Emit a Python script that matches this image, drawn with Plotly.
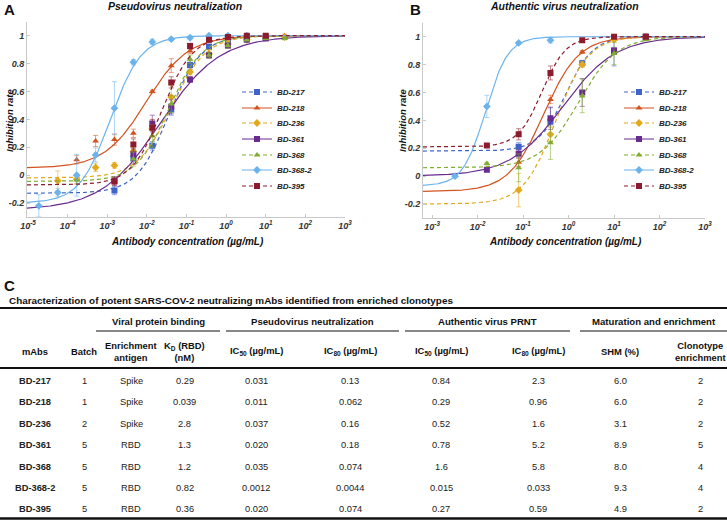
import numpy as np
import plotly.graph_objects as go

W, H = 727, 520
FONT = "Liberation Sans, Arial, sans-serif"

mabs = ["BD-217", "BD-218", "BD-236", "BD-361", "BD-368", "BD-368-2", "BD-395"]
colors = ["#3f63c9", "#d2531f", "#e2a91d", "#6a2b8e", "#80ad2f", "#6cb3ec", "#8c1b2d"]
symbols = ["square", "triangle-up", "diamond", "square", "triangle-up", "diamond", "square"]
dashes = ["4px,3px", "solid", "4px,3px", "solid", "4px,3px", "solid", "4px,3px"]

# pseudovirus neutralization (panel A): measured points, ug/mL
pv_conc = [
    [0.00152, 0.00457, 0.0137, 0.0412, 0.123, 0.37, 1.11, 3.33, 10],
    [0.000169, 0.000508, 0.00152, 0.00457, 0.0137, 0.0412, 0.123, 0.37, 1.11, 3.33, 10, 30],
    [0.0000565, 0.000169, 0.000508, 0.00152, 0.00457, 0.0137, 0.0412, 0.123, 0.37, 1.11, 3.33, 10, 30],
    [0.00152, 0.00457, 0.0137, 0.0412, 0.123, 0.37, 1.11, 3.33, 10],
    [0.000169, 0.00457, 0.0137, 0.0412, 0.123, 0.37, 1.11, 3.33, 10, 30],
    [0.0000188, 0.0000565, 0.000169, 0.000508, 0.00152, 0.00457, 0.0137, 0.0412, 0.123, 0.37, 1.11, 3.33],
    [0.00152, 0.00457, 0.0137, 0.0412, 0.123, 0.37, 1.11, 3.33, 10],
]
pv_rate = [
    [-0.11, 0.12, 0.21, 0.47, 0.79, 0.92, 0.96, 0.98, 0.99],
    [0.11, 0.245, 0.255, 0.30, 0.60, 0.785, 0.89, 0.97, 0.98, 0.99, 0.99, 1.0],
    [-0.04, -0.03, 0.055, 0.07, 0.17, 0.33, 0.56, 0.74, 0.87, 0.94, 0.97, 0.99, 0.99],
    [-0.04, 0.15, 0.37, 0.49, 0.685, 0.86, 0.93, 0.97, 0.98],
    [-0.035, 0.115, 0.28, 0.51, 0.83, 0.86, 0.93, 0.97, 0.98, 0.98],
    [-0.22, -0.125, 0.0, 0.145, 0.48, 0.81, 0.955, 0.975, 0.985, 1.0, 1.0, 1.0],
    [-0.045, 0.22, 0.34, 0.665, 0.925, 0.97, 0.99, 1.0, 1.0],
]
pv_sd = [
    [0.03, 0.04, 0.03, 0.04, 0.03, 0.02, 0.02, 0.01, 0.01],
    [0.03, 0.04, 0.04, 0.03, 0.01, 0.05, 0.02, 0.01, 0.01, 0.01, 0.01, 0.01],
    [0.07, 0.03, 0.03, 0.02, 0.03, 0.05, 0.08, 0.02, 0.03, 0.02, 0.01, 0.01, 0.01],
    [0.03, 0.04, 0.06, 0.05, 0.02, 0.02, 0.02, 0.01, 0.01],
    [0.03, 0.05, 0.08, 0.06, 0.03, 0.02, 0.02, 0.01, 0.01, 0.01],
    [0.08, 0.03, 0.15, 0.05, 0.19, 0.02, 0.02, 0.01, 0.01, 0.01, 0.01, 0.01],
    [0.03, 0.04, 0.06, 0.04, 0.02, 0.01, 0.01, 0.01, 0.01],
]
# fitted 4-parameter logistic curves, panel A
pv_bottom = [-0.13, 0.05, -0.02, -0.25, -0.045, -0.2, -0.07]
pv_ec50 = [0.036, 0.0096, 0.042, 0.022, 0.036, 0.0012, 0.024]
pv_hill = [1.07, 0.82, 1.0, 0.585, 1.05, 1.12, 1.13]

# authentic virus neutralization (panel B)
av_conc = [
    [0.08, 0.4, 2, 10, 50],
    [0.08, 0.4, 2, 10, 50],
    [0.08, 0.4, 2, 10, 50],
    [0.016, 0.08, 0.4, 2, 10, 50],
    [0.016, 0.08, 0.4, 2, 10, 50],
    [0.0032, 0.016, 0.08, 0.4],
    [0.016, 0.08, 0.4, 2, 10, 50],
]
av_rate = [
    [0.21, 0.39, 0.81, 0.89, 1.0],
    [0.10, 0.55, 0.89, 0.99, 1.0],
    [-0.10, 0.30, 0.80, 0.98, 1.0],
    [0.045, 0.16, 0.415, 0.60, 0.90, 1.0],
    [0.09, 0.06, 0.24, 0.575, 0.88, 0.98],
    [0.0, 0.50, 0.955, 0.975],
    [0.22, 0.30, 0.74, 0.975, 1.0, 1.0],
]
av_sd = [
    [0.03, 0.10, 0.02, 0.10, 0.01],
    [0.03, 0.03, 0.01, 0.01, 0.01],
    [0.12, 0.05, 0.02, 0.02, 0.01],
    [0.01, 0.03, 0.08, 0.10, 0.02, 0.01],
    [0.01, 0.10, 0.12, 0.12, 0.08, 0.01],
    [0.01, 0.08, 0.01, 0.02],
    [0.01, 0.04, 0.05, 0.01, 0.01, 0.01],
]
av_bottom = [0.18, -0.11, -0.2, 0.0, 0.06, -0.07, 0.21]
av_ec50 = [0.87, 0.285, 0.525, 0.75, 1.65, 0.0149, 0.26]
av_hill = [1.45, 1.13, 1.24, 0.75, 1.04, 1.75, 1.65]

# table (panel C)
batch = ["1", "1", "2", "5", "5", "5", "5"]
antigen = ["Spike", "Spike", "Spike", "RBD", "RBD", "RBD", "RBD"]
kd = ["0.29", "0.039", "2.8", "1.3", "1.2", "0.82", "0.36"]
pv_ic50 = ["0.031", "0.011", "0.037", "0.020", "0.035", "0.0012", "0.020"]
pv_ic80 = ["0.13", "0.062", "0.16", "0.18", "0.074", "0.0044", "0.074"]
av_ic50 = ["0.84", "0.29", "0.52", "0.78", "1.6", "0.015", "0.27"]
av_ic80 = ["2.3", "0.96", "1.6", "5.2", "5.8", "0.033", "0.59"]
shm = ["6.0", "6.0", "3.1", "8.9", "8.0", "9.3", "4.9"]
clonotype = ["2", "2", "2", "5", "4", "4", "2"]
col_headers = ["mAbs", "Batch", "Enrichment<br>antigen", "K<sub>D</sub> (RBD)<br>(nM)",
               "IC<sub>50</sub> (µg/mL)", "IC<sub>80</sub> (µg/mL)",
               "IC<sub>50</sub> (µg/mL)", "IC<sub>80</sub> (µg/mL)",
               "SHM (%)", "Clonotype<br>enrichment"]
groups = ["Viral protein binding", "Pseudovirus neutralization",
          "Authentic virus PRNT", "Maturation and enrichment"]

# table layout (pixels)
col_x = [35, 84, 131, 185, 256, 350, 441, 538, 620, 700]
group_span = [(96, 220), (226, 399), (405, 570), (580, 727)]
row_y0, row_dy = 381, 21.4


def px(x):
    return x / W


def py(y):
    return 1 - y / H


def logistic(c, bottom, ec50, hill, top=1.0):
    return bottom + (top - bottom) / (1 + (ec50 / c) ** hill)


def rgba(hexc, a):
    h = hexc.lstrip("#")
    return "rgba(%d,%d,%d,%.2f)" % (int(h[0:2], 16), int(h[2:4], 16), int(h[4:6], 16), a)


fig = go.Figure()

panels = [
    ("x", "y", pv_conc, pv_rate, pv_sd, pv_bottom, pv_ec50, pv_hill, (-5.025, 3), 0),
    ("x2", "y2", av_conc, av_rate, av_sd, av_bottom, av_ec50, av_hill, (-3.2, 3), 7),
]
legend_y = [92, 108, 123, 139, 155, 170, 186]
legend_x = [237, 619]

for xa, ya, conc, rate, sd, bot, ec, hl, xr, loff in panels:
    cc = np.logspace(xr[0], xr[1], 400)
    for i, name in enumerate(mabs):
        fig.add_trace(go.Scatter(
            x=cc, y=logistic(cc, bot[i], ec[i], hl[i]), mode="lines",
            line=dict(color=colors[i], width=1.2, dash=dashes[i]),
            xaxis=xa, yaxis=ya, showlegend=False, hoverinfo="skip"))
        fig.add_trace(go.Scatter(
            x=conc[i], y=rate[i], mode="markers",
            marker=dict(color=colors[i], symbol=symbols[i], size=6),
            error_y=dict(type="data", array=sd[i], color=rgba(colors[i], 0.55),
                         thickness=1, width=2.5),
            xaxis=xa, yaxis=ya, showlegend=False))
        lg = "legend" if loff + i == 0 else "legend%d" % (loff + i + 1)
        fig.add_trace(go.Scatter(
            x=[None], y=[None], mode="lines+markers", name=name,
            line=dict(color=colors[i], width=1.2, dash=dashes[i]),
            marker=dict(color=colors[i], symbol=symbols[i], size=6),
            xaxis=xa, yaxis=ya, legend=lg))

tickfont = dict(family=FONT, size=9, color="#333", weight="bold", style="italic")
axis_common = dict(showline=True, linecolor="#c9c9c9", linewidth=1, ticks="inside",
                   ticklen=3, tickcolor="#c9c9c9", showgrid=False, zeroline=False,
                   tickfont=tickfont, automargin=False)
yt = [-0.2, 0, 0.2, 0.4, 0.6, 0.8, 1]
yl = ["-0.2", "0", "0.2", "0.4", "0.6", "0.8", "1"]

layout = dict(
    width=W, height=H, margin=dict(l=0, r=0, t=0, b=0, autoexpand=False),
    plot_bgcolor="white", paper_bgcolor="white",
    font=dict(family=FONT, color="#222"),
    xaxis=dict(domain=[px(27), px(345)], type="log", range=[-5.025, 3], anchor="y",
               tickvals=[10.0 ** k for k in range(-5, 4)],
               ticktext=["10<sup>%d</sup>" % k for k in range(-5, 4)], **axis_common),
    yaxis=dict(domain=[py(217), py(21.7)], range=[-0.3, 1.1], anchor="x",
               tickvals=yt, ticktext=yl, **axis_common),
    xaxis2=dict(domain=[px(423), px(705)], type="log", range=[-3.2, 3], anchor="y2",
                tickvals=[10.0 ** k for k in range(-3, 4)],
                ticktext=["10<sup>%d</sup>" % k for k in range(-3, 4)], **axis_common),
    yaxis2=dict(domain=[py(218), py(22.7)], range=[-0.3, 1.1], anchor="x2",
                tickvals=yt, ticktext=yl, **axis_common),
)

legfont = dict(family=FONT, size=8, color="#222", weight="bold", style="italic")
for p in range(2):
    for i in range(7):
        k = p * 7 + i
        key = "legend" if k == 0 else "legend%d" % (k + 1)
        layout[key] = dict(x=px(legend_x[p]), y=py(legend_y[i]), xanchor="left",
                           yanchor="middle", bgcolor="rgba(0,0,0,0)", font=legfont,
                           itemwidth=30)
fig.update_layout(**layout)

ann = []


def text(x, y, s, size, bold=True, italic=False, xanchor="center", angle=0, color="#111"):
    ann.append(dict(x=px(x), y=py(y), xref="paper", yref="paper", text=s, showarrow=False,
                    xanchor=xanchor, yanchor="middle", textangle=angle,
                    font=dict(family=FONT, size=size, color=color,
                              weight="bold" if bold else "normal",
                              style="italic" if italic else "normal")))


text(2, 9, "A", 15, xanchor="left")
text(175, 6, "Pseudovirus neutralization", 10.5, italic=True)
text(408, 9, "B", 15, xanchor="left")
text(564, 6, "Authentic virus neutralization", 10.5, italic=True)
text(9, 120, "Inhibition rate", 9.5, italic=True, angle=-90)
text(402, 120, "Inhibition rate", 9.5, italic=True, angle=-90)
text(187, 241, "Antibody concentration (µg/mL)", 10, italic=True)
text(565, 241, "Antibody concentration (µg/mL)", 10, italic=True)
text(2, 285, "C", 15, xanchor="left")
text(7, 300, "Characterization of potent SARS-COV-2 neutralizing mAbs identified from enriched clonotypes",
     9.9, xanchor="left")

# table drawn as text cells from the lists above
columns = [mabs, batch, antigen, kd, pv_ic50, pv_ic80, av_ic50, av_ic80, shm, clonotype]
for j, h in enumerate(col_headers):
    text(col_x[j], 351, h, 9.4, bold=True)
for j, col in enumerate(columns):
    for r, v in enumerate(col):
        text(col_x[j], row_y0 + r * row_dy, v, 9.3, bold=(j == 0), color="#222")

shapes = [
    dict(type="line", xref="paper", yref="paper", x0=0, x1=1, y0=py(308), y1=py(308),
         line=dict(color="#111", width=2)),
    dict(type="line", xref="paper", yref="paper", x0=0, x1=1, y0=py(368), y1=py(368),
         line=dict(color="#111", width=1.8)),
    dict(type="line", xref="paper", yref="paper", x0=0, x1=1, y0=py(518.5), y1=py(518.5),
         line=dict(color="#111", width=2.5)),
]
for g, (x0, x1) in zip(groups, group_span):
    text((x0 + x1) / 2, 321, g, 9.6)
    shapes.append(dict(type="line", xref="paper", yref="paper", x0=px(x0), x1=px(x1),
                       y0=py(331), y1=py(331), line=dict(color="#111", width=1.2)))

fig.update_layout(annotations=ann, shapes=shapes)
fig.write_html("out.html", config={"displayModeBar": False},
               post_script="document.body.style.margin='0px';")
